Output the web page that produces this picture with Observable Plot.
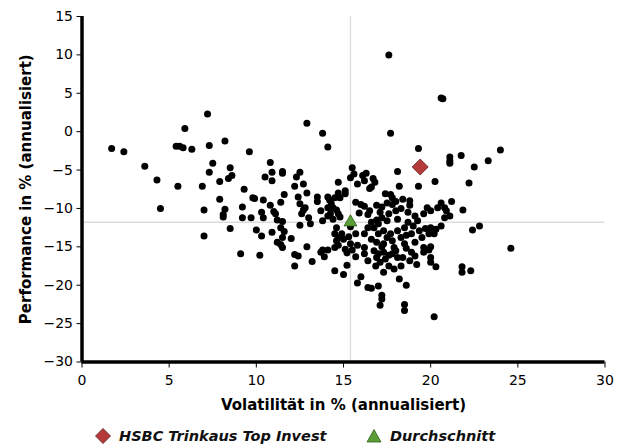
<!DOCTYPE html>
<html><head><meta charset="utf-8">
<script src="https://cdn.jsdelivr.net/npm/d3@7"></script>
<script src="https://cdn.jsdelivr.net/npm/@observablehq/plot@0.6"></script>
<style>
body{margin:0;background:#fff;font-family:"DejaVu Sans",sans-serif;}
#wrap{width:628px;height:448px;position:relative;overflow:hidden;}
#chart svg{display:block;}
#legend{position:relative;height:24px;font-weight:bold;font-style:italic;font-size:14.5px;color:#111;}
.item{position:absolute;top:0;display:flex;align-items:center;height:24px;white-space:nowrap;}
.item svg{margin-right:8px;display:block;}
</style></head><body>
<div id="wrap"><div id="chart"></div><div id="legend"></div></div>
<script>
const volatility = [
1.7,2.4,3.6,4.3,4.5,5.5,5.4,5.6,5.8,5.9,6.3,6.9,7.0,7.0,7.2,7.3,7.3,7.5,7.9,7.9,
8.1,8.1,8.2,8.2,8.5,8.6,8.4,8.5,9.1,9.2,9.2,9.3,9.6,9.7,9.8,9.9,10.0,10.2,10.3,10.3,
10.4,10.4,10.5,10.8,10.9,10.8,10.9,10.9,11.0,11.1,11.2,11.2,11.4,11.5,11.5,11.5,11.6,11.4,11.4,11.6,
11.5,12.0,11.5,
12.2,12.2,12.4,12.2,12.3,12.5,12.4,12.5,12.6,12.8,12.5,12.7,12.9,12.9,12.9,13.0,13.1,13.2,13.5,13.5,
13.7,13.7,13.8,13.8,13.8,13.9,14.1,14.1,14.1,14.1,14.1,14.3,14.4,14.2,12.7,
14.5,14.5,14.5,14.6,14.7,14.7,14.7,14.6,14.7,14.8,14.25,14.4,14.8,15.1,14.5,15.0,14.7,14.9,15.0,15.1,
15.1,15.2,15.3,15.4,15.4,15.5,15.5,15.2,15.4,14.6,
15.7,15.8,15.7,15.6,15.8,16.0,15.9,16.0,16.1,16.2,16.3,16.4,16.6,16.5,16.6,16.7,16.8,16.9,17.0,15.7,
16.2,16.4,16.4,16.75,16.2,16.6,17.0,16.2,16.75,16.9,16.2,16.4,16.85,17.0,15.8,16.5,
17.2,17.2,17.1,17.3,17.4,17.6,17.7,17.7,17.8,18.0,18.1,18.2,18.2,18.5,18.5,18.6,18.8,17.1,17.6,18.0,
18.7,19.1,17.5,18.1,17.3,17.7,18.1,18.5,18.9,17.3,17.9,18.5,19.1,18.1,17.1,17.4,17.3,17.8,17.6,17.9,
18.3,18.4,18.8,18.9,17.8,18.4,18.8,
16.9,17.0,17.2,16.6,17.5,17.8,18.3,18.6,18.0,17.6,16.9,17.2,18.6,18.7,19.0,18.3,17.2,17.5,19.5,19.7,
19.3,19.3,19.25,19.35,19.6,19.1,19.2,19.6,19.6,19.8,19.9,20.0,19.9,20.0,20.3,20.0,20.2,20.0,20.25,20.2,
20.6,20.8,20.9,20.0,20.4,20.8,21.1,20.3,20.6,20.6,20.7,21.1,21.1,21.1,21.2,
21.75,21.8,21.8,21.85,22.2,22.3,22.4,22.5,22.8,23.3,24.0,24.6
];
const performance = [
-2.2,-2.6,-4.5,-6.3,-10.0,-7.1,-1.9,-1.9,-2.1,0.4,-2.3,-7.1,-10.2,-13.6,2.3,-1.8,-5.3,-4.1,-6.5,-8.8,
-10.8,-11.1,-10.1,-1.2,-4.7,-5.7,-6.1,-12.6,-15.9,-9.8,-11.2,-7.5,-2.6,-11.2,-8.6,-8.7,-12.8,-16.1,-10.5,-13.6,
-8.9,-11.2,-5.9,-4.0,-6.4,-9.6,-13.1,-5.3,-10.4,-10.7,-11.5,-14.4,-14.7,-15.1,-5.2,-5.4,-8.2,-9.2,-12.5,-13.0,
-13.8,-13.9,-11.7,
-17.5,-16.0,-16.2,-7.1,-5.9,-5.3,-8.5,-9.4,-10.7,-9.9,-12.2,-6.8,1.1,-8.0,-15.0,-11.2,-12.0,-16.9,-8.5,-9.1,
-10.3,-15.7,-15.4,-0.2,-11.6,-16.3,-15.4,-2.0,-8.5,-9.9,-11.0,-9.4,-11.4,-8.9,-10.2,
-8.6,-15.1,-18.1,-12.5,-13.8,-6.6,-8.0,-10.2,-10.7,-11.1,-10.7,-9.9,-8.6,-8.1,-13.3,-14.0,-14.8,-13.3,-18.6,-15.3,
-7.7,-17.4,-13.7,-12.4,-6.0,-4.7,-15.4,-15.8,-14.6,-14.2,
-13.3,-14.8,-16.3,-5.5,-19.7,-18.9,-10.6,-9.5,-5.7,-6.4,-5.4,-20.3,-20.4,-10.3,-7.2,-6.1,-6.6,-9.6,-20.1,-9.2,
-9.7,-10.8,-12.5,-12.5,-13.3,-14.0,-13.3,-15.1,-15.5,-16.4,-15.9,-16.8,-17.5,-15.9,-6.8,-7.4,
-21.3,-21.8,-22.6,-18.3,-8.1,10.0,-0.2,-8.2,-9.5,-9.1,-5.2,-7.1,-19.2,-22.5,-23.3,-20.0,-9.0,-10.5,-10.7,-10.3,
-10.5,-11.0,-11.6,-11.4,-12.9,-13.3,-12.9,-12.5,-13.3,-14.6,-15.1,-14.6,-14.4,-16.4,-17.0,-16.6,-15.7,-15.9,-17.5,-17.9,
-17.5,-16.4,-16.8,-15.7,-8.6,-8.8,-9.6,
-11.5,-12.0,-11.2,-11.8,-13.8,-14.2,-13.8,-13.5,-15.5,-16.1,-14.4,-15.0,-15.2,-11.8,-12.3,-10.0,-9.8,-9.3,-13.8,-12.6,
-2.2,-7.1,-11.6,-12.9,-15.1,-16.2,-17.3,-15.7,-10.7,-9.9,-13.3,-15.0,-15.4,-17.0,-17.6,-12.5,-13.3,-16.4,-6.5,-24.1,
-9.3,-9.9,-10.3,-10.3,-9.9,-11.2,-11.0,-12.7,-12.3,4.4,4.3,-3.3,-3.8,-4.1,-9.1,
-3.1,-17.6,-18.3,-10.2,-6.7,-18.1,-12.8,-4.6,-12.3,-3.8,-2.4,-15.2
];
const fund = {name: "HSBC Trinkaus Top Invest", x: 19.4, y: -4.6};
const average = {name: "Durchschnitt", x: 15.4, y: -11.8};
const xTicks = [0, 5, 10, 15, 20, 25, 30];
const yTicks = [15, 10, 5, 0, -5, -10, -15, -20, -25, -30];
const xLabel = "Volatilität in % (annualisiert)";
const yLabel = "Performance in % (annualisiert)";

const points = volatility.map((v, i) => ({x: v, y: performance[i]}));

const chart = Plot.plot({
  width: 628, height: 424,
  marginLeft: 81.5, marginRight: 23.5, marginTop: 16, marginBottom: 62.5,
  style: {fontFamily: "DejaVu Sans", fontSize: "14px", background: "#fff", color: "#000"},
  x: {domain: [0, 30]},
  y: {domain: [-30, 15]},
  marks: [
    Plot.ruleX([average.x], {stroke: "#dcdcdc", strokeWidth: 1.3}),
    Plot.ruleY([average.y], {stroke: "#dcdcdc", strokeWidth: 1.3}),
    Plot.dot(points, {x: "x", y: "y", r: 3.5, fill: "#000"}),
    Plot.dot([average], {x: "x", y: "y", symbol: "triangle", r: 4.8, fill: "#5c9e36", stroke: "#2d5a1a", strokeWidth: 0.8}),
    Plot.dot([fund], {x: "x", y: "y", symbol: "diamond2", r: 7.2, fill: "#b53b3b", stroke: "#5b1c1c", strokeWidth: 0.8}),
    Plot.axisX({ticks: xTicks, tickSize: 6, tickPadding: 7, label: null, fontSize: 14}),
    Plot.axisY({ticks: yTicks, tickSize: 5, tickPadding: 4, label: null, fontSize: 14}),
    Plot.ruleX([0], {stroke: "#000", strokeWidth: 3.5}),
    Plot.ruleY([-30], {stroke: "#000", strokeWidth: 3.5}),
    Plot.text([xLabel], {text: d => d, frameAnchor: "bottom", dy: 43, lineAnchor: "middle", textAnchor: "middle", fontWeight: "bold", fontSize: 15}),
    Plot.text([yLabel], {text: d => d, frameAnchor: "left", dx: -55.5, rotate: -90, textAnchor: "middle", lineAnchor: "middle", fontWeight: "bold", fontSize: 15})
  ]
});
document.getElementById("chart").appendChild(chart);

const legend = document.getElementById("legend");
const items = [
  {label: fund.name, left: 95, svg: '<svg width="16" height="16" viewBox="-8 -8 16 16"><path d="M0,-7.5L7.5,0L0,7.5L-7.5,0Z" fill="#b53b3b" stroke="#5b1c1c" stroke-width="0.8"/></svg>'},
  {label: average.name, left: 366, svg: '<svg width="16" height="16" viewBox="-8 -8 16 16"><path d="M0,-6.5L7,6L-7,6Z" fill="#5c9e36" stroke="#2d5a1a" stroke-width="0.8"/></svg>'}
];
for (const it of items) {
  const d = document.createElement("div");
  d.className = "item";
  d.style.left = it.left + "px";
  d.innerHTML = it.svg + "<span>" + it.label + "</span>";
  legend.appendChild(d);
}
</script>
</body></html>
